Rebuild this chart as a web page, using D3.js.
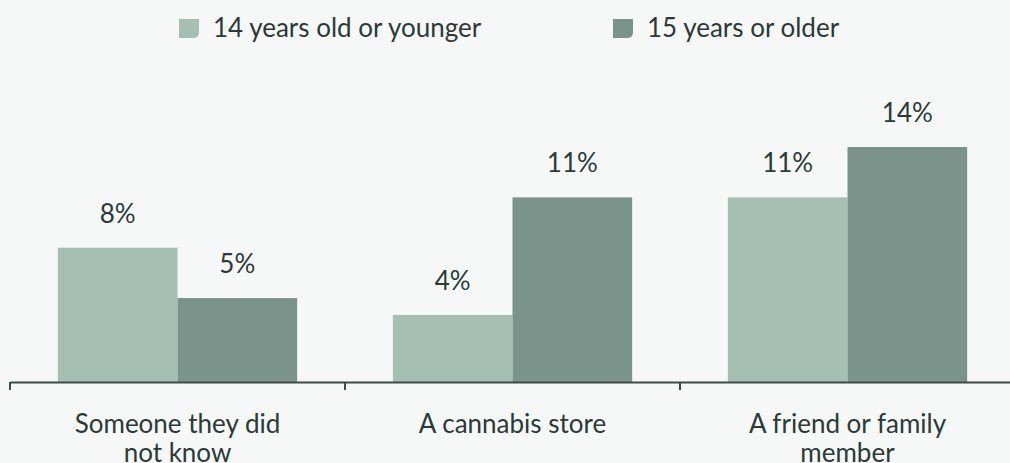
<!DOCTYPE html>
<html>
<head>
<meta charset="utf-8">
<script src="https://cdn.jsdelivr.net/npm/d3@7"></script>
<style>
  html, body { margin: 0; padding: 0; background: #f5f8f7; }
  svg { display: block; font-family: Lato, "Open Sans", sans-serif; }
</style>
</head>
<body>
<svg id="chart" width="1010" height="463"></svg>
<script>
// Where cannabis was obtained, by age group (percent)
const categories = ["Someone they did not know", "A cannabis store", "A friend or family member"];
const categoryLines = [["Someone they did", "not know"], ["A cannabis store"], ["A friend or family", "member"]];
const seriesNames = ["14 years old or younger", "15 years or older"];
const younger = [8, 4, 11];
const older = [5, 11, 14];
const seriesColors = ["#a6bfb5", "#7a948c"];

const width = 1010, height = 463;
const baseline = 382;
const textColor = "#2b3a37";
const fontSize = 26;

const svg = d3.select("#chart");
svg.append("rect").attr("width", width).attr("height", height).attr("fill", "#f5f8f7");

const x0 = d3.scaleBand().domain(categories).range([10, 1015]).paddingInner(0).paddingOuter(0);
const x1 = d3.scaleBand().domain(seriesNames).range([0, x0.bandwidth()]).paddingOuter(0.4).paddingInner(0);
const y = d3.scaleLinear().domain([0, 14]).range([baseline, 147]);

const rows = categories.map((c, i) => ({ cat: c, vals: [younger[i], older[i]] }));

const groups = svg.selectAll("g.group").data(rows).join("g")
  .attr("class", "group")
  .attr("transform", d => `translate(${x0(d.cat)},0)`);

groups.selectAll("rect").data(d => d.vals.map((v, j) => ({ v, s: seriesNames[j], j }))).join("rect")
  .attr("x", d => x1(d.s))
  .attr("width", x1.bandwidth())
  .attr("y", d => y(d.v))
  .attr("height", d => baseline - y(d.v))
  .attr("fill", d => seriesColors[d.j]);

groups.selectAll("text.val").data(d => d.vals.map((v, j) => ({ v, s: seriesNames[j] }))).join("text")
  .attr("class", "val")
  .attr("x", d => x1(d.s) + x1.bandwidth() / 2)
  .attr("y", d => y(d.v) - 25)
  .attr("text-anchor", "middle")
  .attr("font-size", fontSize)
  .attr("fill", textColor)
  .text(d => d.v + "%");

// Category axis
const axis = svg.append("g").attr("transform", `translate(0,${baseline})`)
  .call(d3.axisBottom(x0).tickSize(0).tickFormat(""));
axis.select(".domain").attr("stroke", "#3a4b48").attr("stroke-width", 2.2);
axis.selectAll(".tick").remove();

const tickXs = categories.map(c => x0(c)).concat([x0.range()[1]]);
axis.selectAll("line.sep").data(tickXs).join("line")
  .attr("class", "sep")
  .attr("x1", d => d).attr("x2", d => d)
  .attr("y1", 0).attr("y2", 8)
  .attr("stroke", "#3a4b48").attr("stroke-width", 2);

svg.selectAll("text.cat").data(categories).join("text")
  .attr("class", "cat")
  .attr("text-anchor", "middle")
  .attr("font-size", fontSize)
  .attr("fill", textColor)
  .each(function(d, i) {
    const t = d3.select(this);
    categoryLines[i].forEach((line, k) => {
      t.append("tspan")
        .attr("x", x0(d) + x0.bandwidth() / 2)
        .attr("y", 433 + k * 29)
        .text(line);
    });
  });

// Legend
const legendX = [179, 613];
const legend = svg.selectAll("g.legend").data(seriesNames).join("g")
  .attr("class", "legend")
  .attr("transform", (d, i) => `translate(${legendX[i]},19)`);
legend.append("path")
  .attr("d", "M0,0H20V13Q20,19 14,19H0Z")
  .attr("fill", (d, i) => seriesColors[i]);
legend.append("text")
  .attr("x", 34).attr("y", 18)
  .attr("font-size", fontSize)
  .attr("fill", textColor)
  .text(d => d);
</script>
</body>
</html>
